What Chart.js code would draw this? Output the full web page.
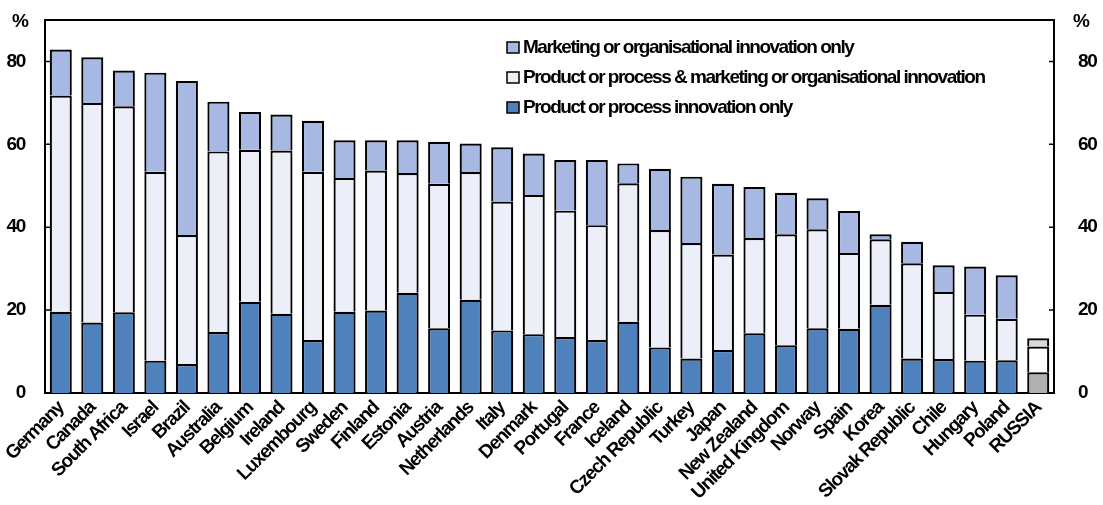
<!DOCTYPE html>
<html>
<head>
<meta charset="utf-8">
<script src="https://cdn.jsdelivr.net/npm/chart.js@4.4.1/dist/chart.umd.min.js"></script>
<style>
  body { margin: 0; background: #fff; }
  canvas { display: block; }
</style>
</head>
<body>
<canvas id="myChart" width="1103" height="505"></canvas>
<script>
// Countries, sorted by total share of innovative firms
var countries = ['Germany', 'Canada', 'South Africa', 'Israel', 'Brazil', 'Australia', 'Belgium', 'Ireland',
  'Luxembourg', 'Sweden', 'Finland', 'Estonia', 'Austria', 'Netherlands', 'Italy', 'Denmark', 'Portugal',
  'France', 'Iceland', 'Czech Republic', 'Turkey', 'Japan', 'New Zealand', 'United Kingdom', 'Norway',
  'Spain', 'Korea', 'Slovak Republic', 'Chile', 'Hungary', 'Poland', 'RUSSIA'];

// Shares in % (stacked from the bottom)
var productOnly = [19.6, 17.0, 19.5, 7.8, 7.0, 14.7, 22.0, 19.1, 12.8, 19.6, 19.9, 24.2, 15.6, 22.5, 15.1, 14.2,
  13.5, 12.8, 17.2, 11.0, 8.3, 10.4, 14.4, 11.5, 15.6, 15.5, 21.3, 8.3, 8.2, 7.8, 7.9, 5.0];
var productAndMarketing = [52.2, 53.0, 49.7, 45.6, 31.1, 43.6, 36.7, 39.4, 40.6, 32.3, 33.8, 28.9, 34.9, 30.8, 31.1, 33.6,
  30.5, 27.7, 33.4, 28.3, 27.9, 23.0, 23.0, 26.8, 23.9, 18.3, 15.8, 23.0, 16.2, 11.1, 10.0, 6.2];
var marketingOnly = [11.1, 11.0, 8.6, 23.9, 37.2, 12.0, 9.1, 8.7, 12.3, 9.1, 7.3, 7.9, 10.1, 6.9, 13.1, 10.0,
  12.2, 15.7, 4.8, 14.8, 16.0, 17.1, 12.3, 10.0, 7.5, 10.1, 1.2, 5.2, 6.4, 11.6, 10.5, 2.0];

var yTicks = [0, 20, 40, 60, 80];

var seriesNames = ['Product or process innovation only',
  'Product or process & marketing or organisational innovation',
  'Marketing or organisational innovation only'];

var FONT = '"Liberation Sans", Arial, sans-serif';
var SPACING = '-1.3px';

// Russia is highlighted in grey
function colours(normal, highlight) {
  return countries.map(function (c) { return c === 'RUSSIA' ? highlight : normal; });
}

var legendColours = ['#a7b9e3', '#eceff8', '#4f81bd'];

// tighter text, like the narrow font of the original
var tightText = {
  id: 'tightText',
  beforeLayout: function (chart) { chart.ctx.letterSpacing = SPACING; },
  beforeDraw: function (chart) { chart.ctx.letterSpacing = SPACING; }
};

var extras = {
  id: 'extras',
  afterDraw: function (chart) {
    var ctx = chart.ctx;
    var a = chart.chartArea;
    var y = chart.scales.y;
    ctx.save();
    ctx.strokeStyle = '#000';
    ctx.lineWidth = 2;
    // top frame line
    ctx.beginPath();
    ctx.moveTo(a.left - 1, a.top);
    ctx.lineTo(a.right + 1, a.top);
    ctx.stroke();
    // inward ticks on both sides
    ctx.lineWidth = 1.5;
    yTicks.forEach(function (v) {
      var py = y.getPixelForValue(v);
      ctx.beginPath();
      ctx.moveTo(a.left, py); ctx.lineTo(a.left + 5, py);
      ctx.moveTo(a.right, py); ctx.lineTo(a.right - 5, py);
      ctx.stroke();
    });
    // unit labels
    ctx.fillStyle = '#000';
    ctx.font = 'bold 19px ' + FONT;
    ctx.textBaseline = 'middle';
    ctx.textAlign = 'left';
    ctx.fillText('%', 12, 22);
    ctx.fillText('%', 1073, 22);
    // legend (top series first)
    ctx.letterSpacing = '-1.5px';
    var names = seriesNames.slice().reverse();
    names.forEach(function (n, i) {
      var cy = 47.5 + i * 30;
      ctx.fillStyle = legendColours[i];
      ctx.fillRect(507, cy - 5.5, 12, 11);
      ctx.lineWidth = 1.5;
      ctx.strokeStyle = '#000';
      ctx.strokeRect(507, cy - 5.5, 12, 11);
      ctx.fillStyle = '#000';
      ctx.fillText(n, 523, cy);
    });
    ctx.restore();
  }
};

var tickFont = { family: FONT, size: 19, weight: 'bold' };

function fixWidth(w) {
  return function (s) {
    s.width = w;
    s.paddingTop = 0;
    s.paddingBottom = 0;
  };
}

var ctx = document.getElementById('myChart').getContext('2d');
var myChart = new Chart(ctx, {
  type: 'bar',
  data: {
    labels: countries,
    datasets: [{
      label: seriesNames[0],
      data: productOnly,
      backgroundColor: colours('#4f81bd', '#b0b0b0')
    }, {
      label: seriesNames[1],
      data: productAndMarketing,
      backgroundColor: colours('#eceff8', '#ffffff')
    }, {
      label: seriesNames[2],
      data: marketingOnly,
      backgroundColor: colours('#a7b9e3', '#dadada')
    }]
  },
  options: {
    responsive: false,
    animation: false,
    layout: { padding: { top: 20, left: 0, right: 0, bottom: 0 } },
    datasets: {
      bar: {
        borderColor: '#000',
        borderWidth: 2.2,
        categoryPercentage: 1,
        barPercentage: 0.7
      }
    },
    plugins: {
      legend: { display: false },
      tooltip: { enabled: false }
    },
    scales: {
      x: {
        stacked: true,
        grid: { display: false, drawTicks: false },
        border: { display: true, color: '#000', width: 2 },
        ticks: { autoSkip: false, maxRotation: 45, minRotation: 45, color: '#000', font: tickFont, padding: 4 },
        afterFit: function (s) { s.height = 112; }
      },
      y: {
        stacked: true,
        position: 'left',
        min: 0,
        max: 90,
        grid: { display: false, drawTicks: false },
        border: { display: true, color: '#000', width: 2 },
        ticks: { stepSize: 20, color: '#000', font: tickFont, padding: 20 },
        afterBuildTicks: function (s) { s.ticks = yTicks.map(function (v) { return { value: v }; }); },
        afterFit: fixWidth(45)
      },
      y1: {
        position: 'right',
        min: 0,
        max: 90,
        grid: { display: false, drawTicks: false },
        border: { display: true, color: '#000', width: 2 },
        ticks: { stepSize: 20, color: '#000', font: tickFont, padding: 24 },
        afterBuildTicks: function (s) { s.ticks = yTicks.map(function (v) { return { value: v }; }); },
        afterFit: fixWidth(49)
      }
    }
  },
  plugins: [tightText, extras]
});
</script>
</body>
</html>
